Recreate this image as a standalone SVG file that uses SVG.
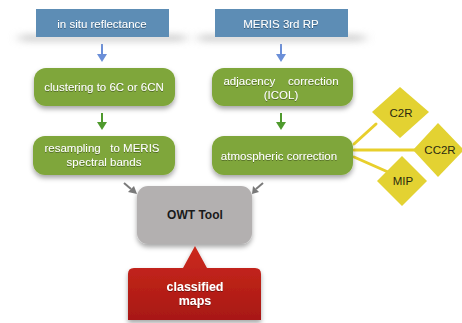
<svg xmlns="http://www.w3.org/2000/svg" width="462" height="323" viewBox="0 0 462 323">
<style>
.t{font-family:"Liberation Sans",Arial,sans-serif;font-size:11.5px;fill:#ffffff;text-anchor:middle}
.d{font-family:"Liberation Sans",Arial,sans-serif;font-size:11.5px;fill:#2a2a10;text-anchor:middle}
.b{font-family:"Liberation Sans",Arial,sans-serif;font-weight:bold;text-anchor:middle}
.blue{fill:#5d8db5}
.green{fill:#7fa63a}
.yel{fill:#e3d232}
.bs{fill:#bdbdbd;opacity:0.6}
</style>
<defs>
<filter id="sh" x="-20%" y="-30%" width="140%" height="170%">
<feDropShadow dx="0" dy="3" stdDeviation="2.5" flood-color="#000" flood-opacity="0.35"/>
</filter>
<filter id="tsh" x="-10%" y="-30%" width="120%" height="160%">
<feDropShadow dx="0" dy="0.8" stdDeviation="0.6" flood-color="#000" flood-opacity="0.45"/>
</filter>
<filter id="blur" x="-30%" y="-100%" width="160%" height="300%">
<feGaussianBlur stdDeviation="6 3"/>
</filter>
<linearGradient id="red" x1="0" y1="0" x2="0" y2="1">
<stop offset="0" stop-color="#cc2a1f"/>
<stop offset="1" stop-color="#a81812"/>
</linearGradient>
</defs>

<g id="connectors">
<g fill="#6b8fd8" stroke="none">
<rect x="101" y="44" width="2" height="11"/>
<polygon points="97,54 107,54 102,62"/>
<rect x="280" y="44" width="2" height="11"/>
<polygon points="276,54 286,54 281,62"/>
</g>
<g fill="#4f9a2e" stroke="none">
<rect x="101" y="113" width="2" height="11"/>
<polygon points="97,122 107,122 102,130"/>
<rect x="280" y="113" width="2" height="11"/>
<polygon points="276,122 286,122 281,130"/>
</g>
<g stroke="#7a7a7a" stroke-width="2" fill="#7a7a7a">
<line x1="124" y1="183" x2="131" y2="189"/>
<polygon points="128,192 137,194 134,186" stroke="none"/>
<line x1="263" y1="183" x2="256" y2="189"/>
<polygon points="259,192 252,194 253,186" stroke="none"/>
</g>
<g stroke="#e8cf2c" stroke-width="3" stroke-linecap="round">
<line x1="354" y1="144" x2="376" y2="124"/>
<line x1="354" y1="150" x2="415" y2="150"/>
<line x1="354" y1="157" x2="388" y2="172"/>
</g>
</g>

<g id="n-insitu">
<rect class="bs" x="20" y="34" width="165" height="8" filter="url(#blur)"/>
<rect class="blue" x="36" y="9" width="133" height="28"/>
<text class="t" x="102" y="28" filter="url(#tsh)">in situ reflectance</text>
</g>
<g id="n-meris">
<rect class="bs" x="199" y="34" width="165" height="8" filter="url(#blur)"/>
<rect class="blue" x="215" y="9" width="133" height="28"/>
<text class="t" x="281" y="28" filter="url(#tsh)">MERIS 3rd RP</text>
</g>

<g id="n-cluster">
<rect class="green" x="34" y="68" width="141" height="38" rx="12" filter="url(#sh)"/>
<text class="t" x="104" y="91" filter="url(#tsh)">clustering to 6C or 6CN</text>
</g>
<g id="n-adj">
<rect class="green" x="212" y="68" width="141" height="38" rx="12" filter="url(#sh)"/>
<text class="t" x="281" y="85" filter="url(#tsh)" xml:space="preserve">adjacency    correction</text>
<text class="t" x="281" y="99" filter="url(#tsh)">(ICOL)</text>
</g>
<g id="n-resamp">
<rect class="green" x="33" y="136" width="142" height="39" rx="12" filter="url(#sh)"/>
<text class="t" x="102" y="152" filter="url(#tsh)" xml:space="preserve">resampling   to MERIS</text>
<text class="t" x="104" y="166" filter="url(#tsh)">spectral bands</text>
</g>
<g id="n-atm">
<rect class="green" x="212" y="136" width="141" height="39" rx="12" filter="url(#sh)"/>
<text class="t" x="279" y="160" filter="url(#tsh)">atmospheric correction</text>
</g>

<g id="n-c2r">
<polygon class="yel" points="400,87 429,112 400,138 372,112"/>
<text class="d" x="401" y="117">C2R</text>
</g>
<g id="n-cc2r">
<polygon class="yel" points="438,123 464,150 438,177 413,150"/>
<text class="d" x="440" y="154">CC2R</text>
</g>
<g id="n-mip">
<polygon class="yel" points="402,156 427,181 402,206 377,181"/>
<text class="d" x="403" y="185">MIP</text>
</g>

<g id="n-owt">
<rect x="137" y="186" width="115" height="58" rx="11" fill="#b3b0b0" filter="url(#sh)"/>
<text class="b" x="195" y="219" font-size="12" fill="#1a1a1a">OWT Tool</text>
</g>

<g id="n-maps">
<path d="M195,246 L207,268 L255,268 Q261,268 261,274 L261,320 L128,320 L128,274 Q128,268 134,268 L183,268 Z" fill="url(#red)" filter="url(#sh)"/>
<text class="b" x="195" y="291" font-size="12.5" fill="#ffffff" filter="url(#tsh)">classified</text>
<text class="b" x="195" y="305" font-size="12.5" fill="#ffffff" filter="url(#tsh)">maps</text>
</g>
</svg>
